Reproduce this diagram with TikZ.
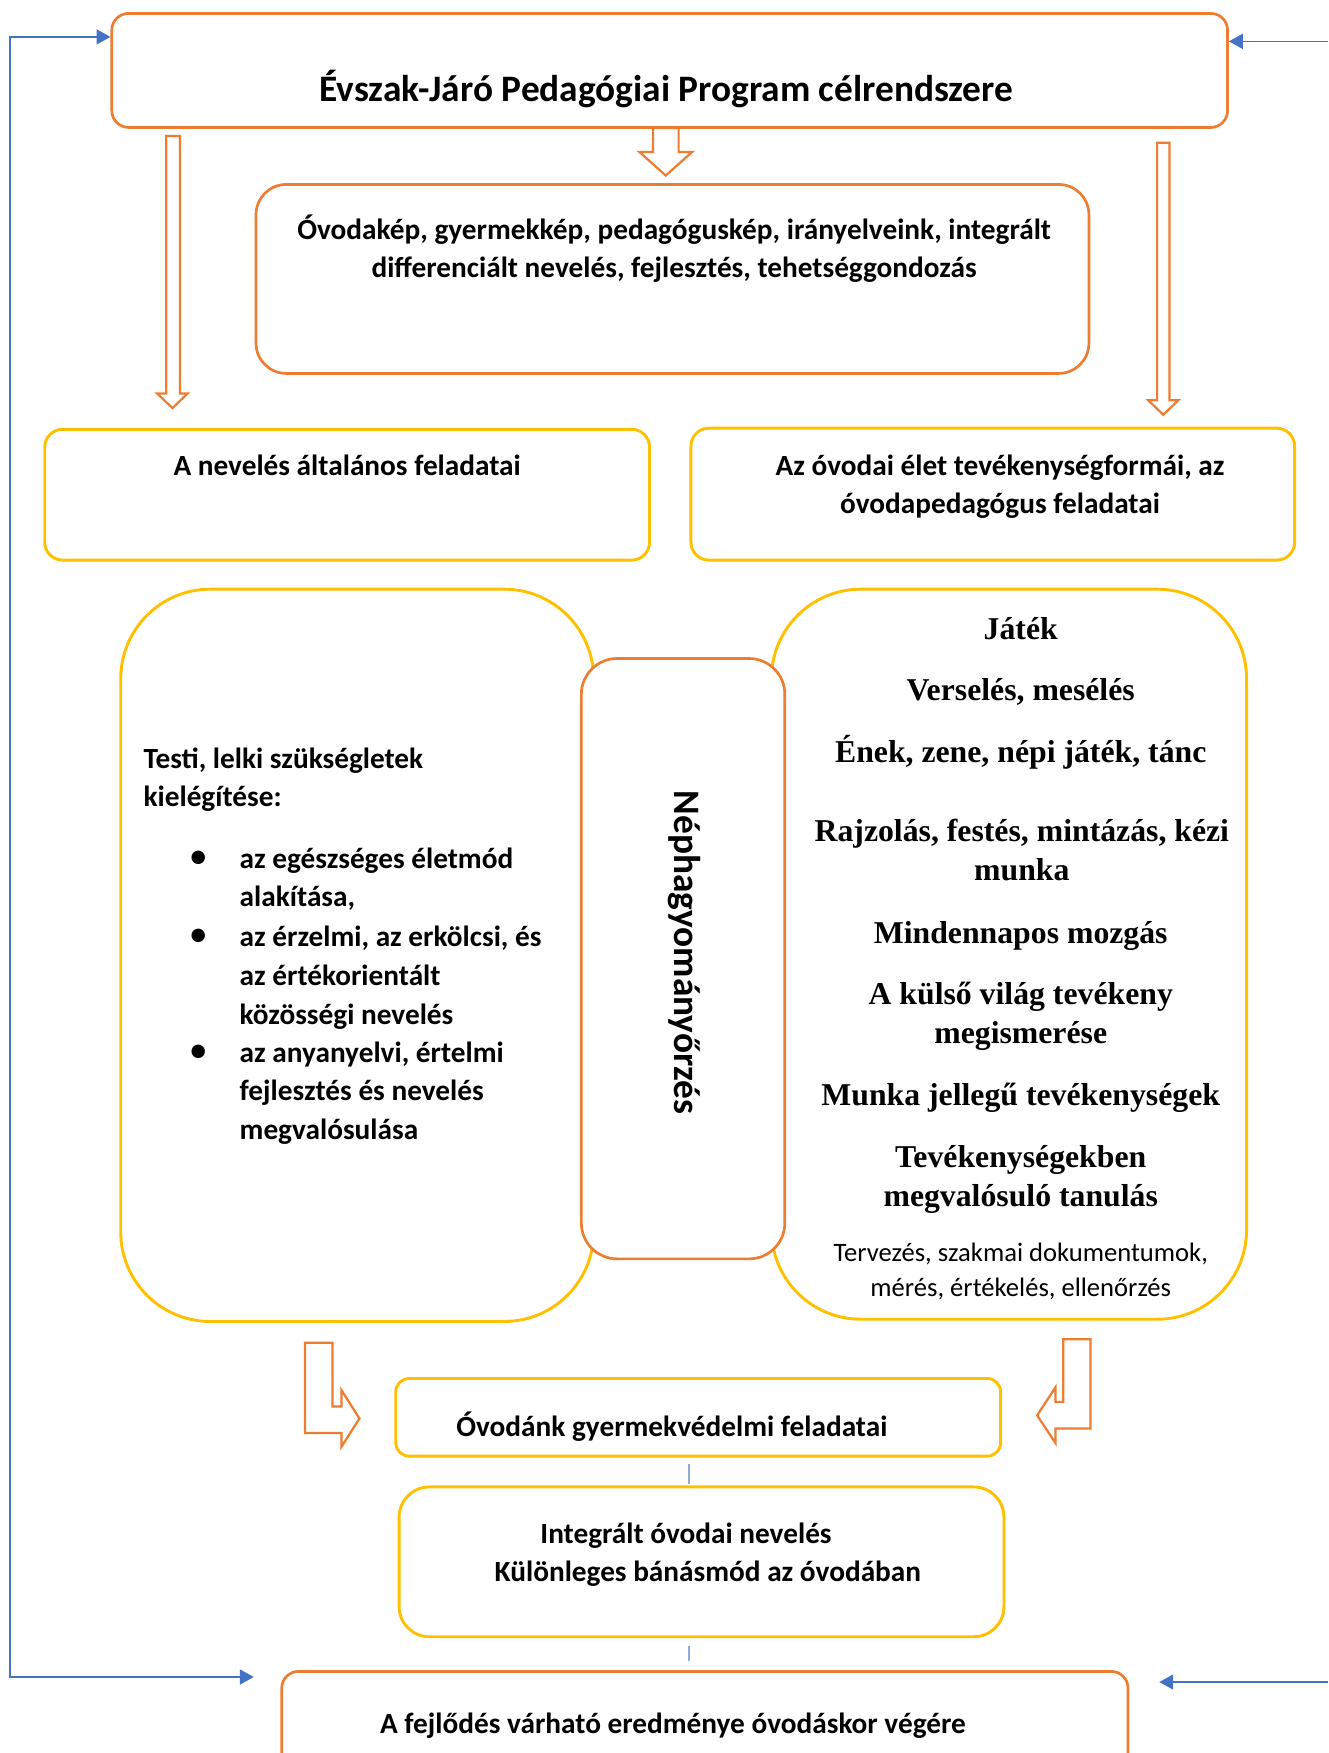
\documentclass[tikz,border=0pt]{standalone}
\usepackage{fontspec}
\setmainfont{Carlito}
\newfontfamily\tnr{Liberation Serif}
\usetikzlibrary{arrows.meta}
\definecolor{orng}{HTML}{ED7D31}
\definecolor{ylw}{HTML}{FFC000}
\definecolor{blu}{HTML}{4472C4}
\definecolor{lblu}{HTML}{8FAADC}
\newcommand\mlines[2][c]{\begin{tabular}[t]{@{}#1@{}}#2\end{tabular}}
\begin{document}
\begin{tikzpicture}[x=0.5pt,y=-0.5pt,
  obox/.style={draw=orng, line width=1.2pt, fill=white, inner sep=0pt},
  ybox/.style={draw=ylw, line width=1.3pt, fill=white, inner sep=0pt},
  txt/.style={inner sep=0pt, anchor=base, yshift=-1pt, font=\bfseries\fontsize{13.1}{17.25}\selectfont},
  big/.style={inner sep=0pt, anchor=base, yshift=-1pt, font=\bfseries\fontsize{16.7}{20}\selectfont},
  srf/.style={inner sep=0pt, anchor=base, yshift=-1pt, font=\tnr\bfseries\fontsize{14.2}{17.5}\selectfont},
  small/.style={inner sep=0pt, anchor=base, yshift=-0.5pt, font=\fontsize{11.9}{15.5}\selectfont},
  bul/.style={inner sep=0pt, anchor=base, yshift=-1pt, font=\fontsize{17}{17}\selectfont},
  blockarrow/.style={draw=orng, line width=1pt, fill=white, line join=miter},
  barrow/.style={draw=blu, line width=0.7pt},
  tip/.tip={Triangle[length=6.2pt,width=6.7pt]},
  tick/.style={draw=lblu, line width=0.8pt}
]
\useasboundingbox (0,0) rectangle (1188,1568);

% ---- boxes ----
\node[obox, rounded corners=7.5pt, minimum width=499pt, minimum height=51pt] (top) at (599,63) {};
\node[obox, rounded corners=13.5pt, minimum width=372.5pt, minimum height=84.5pt] (vals) at (601.5,249.5) {};
\node[ybox, rounded corners=8pt, minimum width=270.5pt, minimum height=58.5pt] (gen) at (310.5,442.5) {};
\node[ybox, rounded corners=8pt, minimum width=270pt, minimum height=59pt] (act) at (888,442) {};
\node[ybox, rounded corners=40pt, minimum width=211.5pt, minimum height=327.5pt] (bigl) at (319.5,854.5) {};
\node[ybox, rounded corners=40pt, minimum width=212.5pt, minimum height=326.5pt] (bigr) at (902.5,853.5) {};
\node[obox, rounded corners=16pt, minimum width=91pt, minimum height=268.5pt] (nepbox) at (611,857.5) {};
\node[ybox, rounded corners=6pt, minimum width=270.5pt, minimum height=34.75pt] (gyv) at (624.5,1267.75) {};
\node[ybox, rounded corners=13.5pt, minimum width=270.5pt, minimum height=67pt] (integ) at (627.5,1397) {};
\node[obox, rounded corners=7.5pt, minimum width=378.5pt, minimum height=52.5pt] (bottom) at (630.5,1547.5) {};

% ---- texts ----
\node[big] (ttop) at (596,88.5) {Évszak-Járó Pedagógiai Program célrendszere};
\node[txt] (tvals) at (603,212) {\mlines{Óvodakép, gyermekkép, pedagóguskép, irányelveink, integrált\\differenciált nevelés, fejlesztés, tehetséggondozás}};
\node[txt] (tgen) at (310.5,423) {A nevelés általános feladatai};
\node[txt] (tact) at (894.5,423) {\mlines{Az óvodai élet tevékenységformái, az\\óvodapedagógus feladatai}};
\node[big, anchor=center, yshift=1pt, rotate=-90] (tnep) at (612,852) {Néphagyományőrzés};

\node[txt, anchor=base west] (th) at (128,685) {\mlines[l]{Testi, lelki szükségletek\\kielégítése:}};
\node[bul] (b1) at (177.5,774.7) {\textbullet};
\node[bul] (b2) at (177.5,845) {\textbullet};
\node[bul] (b3) at (177.5,948) {\textbullet};
\node[txt, anchor=base west] (i1) at (214,774.7) {\mlines[l]{az egészséges életmód\\alakítása,}};
\node[txt, anchor=base west] (i2) at (214,845) {\mlines[l]{az érzelmi, az erkölcsi, és\\az értékorientált\\közösségi nevelés}};
\node[txt, anchor=base west] (i3) at (214,948) {\mlines[l]{az anyanyelvi, értelmi\\fejlesztés és nevelés\\megvalósulása}};

\node[srf] (r1) at (913,570) {Játék};
\node[srf] (r2) at (913,625) {Verselés, mesélés};
\node[srf] (r3) at (913,680) {Ének, zene, népi játék, tánc};
\node[srf] (r4) at (914,751) {\mlines{Rajzolás, festés, mintázás, kézi\\munka}};
\node[srf] (r5) at (913,842) {Mindennapos mozgás};
\node[srf] (r6) at (913,896.5) {\mlines{A külső világ tevékeny\\megismerése}};
\node[srf] (r7) at (913,986.5) {Munka jellegű tevékenységek};
\node[srf] (r8) at (913,1042) {\mlines{Tevékenységekben\\megvalósuló tanulás}};
\node[small] (r9) at (913,1127.5) {\mlines{Tervezés, szakmai dokumentumok,\\mérés, értékelés, ellenőrzés}};

\node[txt] (tgyv) at (601,1283) {Óvodánk gyermekvédelmi feladatai};
\node[txt, anchor=base west, font=\bfseries\fontsize{13.1}{17}\selectfont] (tinteg) at (442,1378.5) {\mlines[l]{\hspace*{20.5pt}Integrált óvodai nevelés\\Különleges bánásmód az óvodában}};
\node[txt] (tbottom) at (602,1548.5) {A fejlődés várható eredménye óvodáskor végére};

% ---- block arrows ----
\draw[blockarrow] (584,114.5) -- (607,114.5) -- (607,136) -- (619,136) -- (595.5,157) -- (572,136) -- (584,136) -- cycle;
\draw[blockarrow] (148.6,121.7) -- (161,121.7) -- (161,352) -- (167.8,352) -- (154.3,365) -- (140.6,352) -- (148.6,352) -- cycle;
\draw[blockarrow] (1035,127.6) -- (1046,127.6) -- (1046,358) -- (1054,358) -- (1040.5,371) -- (1027,358) -- (1035,358) -- cycle;
\draw[blockarrow] (272.8,1201) -- (297.5,1201) -- (297.5,1258) -- (305.5,1258) -- (305.5,1243.5) -- (321.5,1268.8) -- (305.5,1294) -- (305.5,1281.7) -- (272.8,1281.7) -- cycle;
\draw[blockarrow] (951,1198) -- (975.3,1198) -- (975.3,1277.8) -- (944,1277.8) -- (944,1290.6) -- (927.7,1266) -- (944,1241) -- (944,1254) -- (951,1254) -- cycle;

% ---- blue connectors ----
\coordinate (lT) at (8.8,33);
\coordinate (lB) at (8.8,1500);
\coordinate (lE) at (227,1500);
\draw[barrow, {tip}-{tip}] (lT -| top.west) -- (lT) -- (lB) -- (lE);
\coordinate (rT) at (1188,37);
\draw[barrow, -{tip}] (rT) -- (rT -| top.east);
\coordinate (rB) at (1188,1504.5);
\coordinate (rE) at (1037,1504.5);
\draw[barrow, -{tip}] (rB) -- (rE);

% ---- ticks ----
\coordinate (tx) at (616,0);
\draw[tick, shorten <=2.75pt, shorten >=0.5pt] (gyv.south -| tx) -- (integ.north -| tx);
\draw[tick, shorten <=3.5pt, shorten >=4pt] (integ.south -| tx) -- (bottom.north -| tx);
\end{tikzpicture}
\end{document}
